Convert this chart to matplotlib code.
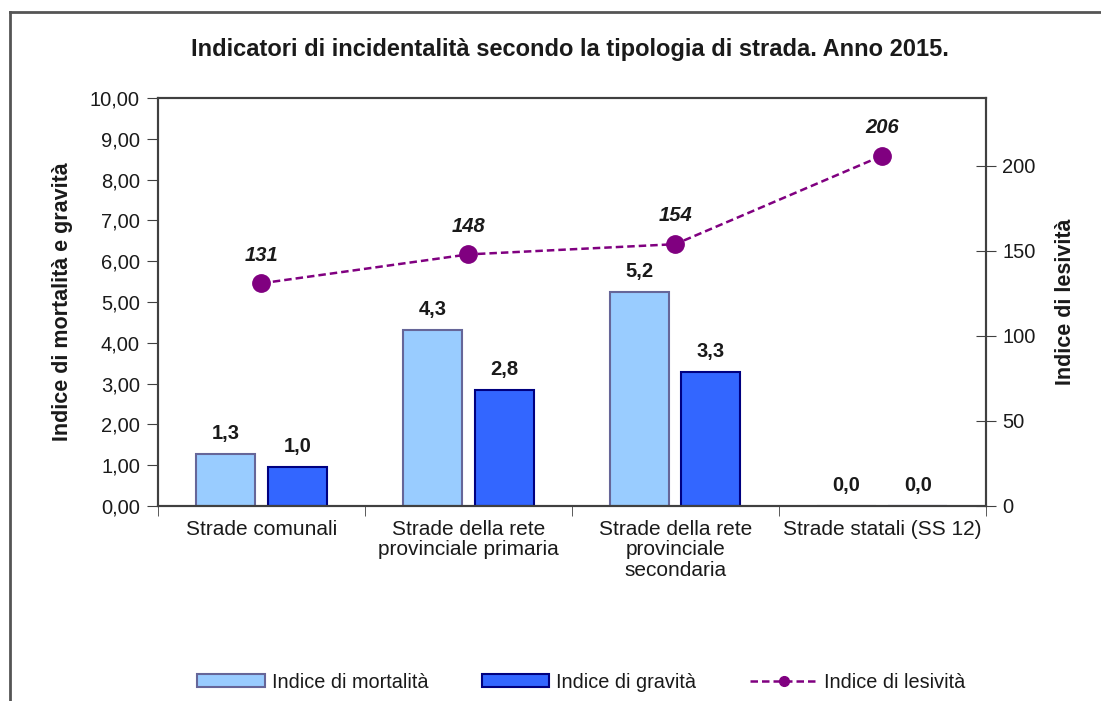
import numpy as np
import matplotlib.pyplot as plt
from matplotlib.lines import Line2D
from matplotlib.patches import Patch

# =========================================================
# DATA
# =========================================================
categorie = ["Strade comunali",
             "Strade della rete\nprovinciale primaria",
             "Strade della rete\nprovinciale\nsecondaria",
             "Strade statali (SS 12)"]
mortalita = [1.27, 4.31, 5.25, 0.0]
gravita = [0.96, 2.84, 3.28, 0.0]
lesivita = [131, 148, 154, 206]

titolo = "Indicatori di incidentalità secondo la tipologia di strada. Anno 2015."

plt.rcParams['font.family'] = ['Liberation Sans', 'DejaVu Sans']

# =========================================================
# FIGURE
# =========================================================
fig = plt.figure(figsize=(11.01, 7.01), dpi=100)
ax = fig.add_axes([0.1435, 0.2782, 0.7516, 0.582])
ax2 = ax.twinx()

x = np.arange(len(categorie))
w = 0.285
off = 0.173
axis_col = "#404040"
txt_col = "#1a1a1a"

ax.bar(x - off, mortalita, w, color="#99CCFF", edgecolor="#666699", linewidth=1.5, zorder=2)
ax.bar(x + off, gravita, w, color="#3366FF", edgecolor="#000080", linewidth=1.5, zorder=2)

for xi, v in zip(x - off, mortalita):
    ax.text(xi, v + 0.27, f"{v:.1f}".replace(".", ","), ha="center", va="bottom",
            fontsize=14.5, fontweight="bold", color=txt_col)
for xi, v in zip(x + off, gravita):
    ax.text(xi, v + 0.27, f"{v:.1f}".replace(".", ","), ha="center", va="bottom",
            fontsize=14.5, fontweight="bold", color=txt_col)

ax2.plot(x, lesivita, color="#800080", linestyle=(0, (3, 1.6)), linewidth=1.8,
         marker="o", markersize=12.5, zorder=3)
for xi, v in zip(x, lesivita):
    ax2.text(xi, v + 11, f"{v}", ha="center", va="bottom", fontsize=14.5,
             fontweight="bold", fontstyle="italic", color=txt_col)

# axes
ax.set_xlim(-0.5, 3.5)
ax.set_ylim(0, 10)
ax2.set_ylim(0, 240)
ax.set_yticks(np.arange(0, 11, 1))
ax.set_yticklabels([f"{v:.2f}".replace(".", ",") for v in np.arange(0, 11, 1)])
ax2.set_yticks([0, 50, 100, 150, 200])

ax.set_xticks(x)
ax.set_xticklabels(categorie, fontsize=15, color=txt_col, linespacing=1.1)
ax.set_xticks(np.arange(-0.5, 4, 1), minor=True)
ax.tick_params(axis="x", which="major", length=0, pad=10)
ax.tick_params(axis="x", which="minor", length=7, direction="out", color=axis_col)
ax.tick_params(axis="y", length=8, direction="out", color=axis_col, labelsize=14.5,
               labelcolor=txt_col, pad=5)
ax2.tick_params(axis="y", length=14, direction="inout", color=axis_col, labelsize=14.5,
                labelcolor=txt_col, pad=5)

for a in (ax, ax2):
    for s in a.spines.values():
        s.set_color(axis_col)
        s.set_linewidth(1.5)

ax.set_ylabel("Indice di mortalità e gravità", fontsize=15.5, fontweight="bold",
              labelpad=12, color=txt_col)
ax2.set_ylabel("Indice di lesività", fontsize=15.5, fontweight="bold", labelpad=14,
               color=txt_col)

fig.text(0.518, 0.929, titolo, ha="center", va="center", fontsize=17,
         fontweight="bold", color=txt_col)

# legend
handles = [Patch(facecolor="#99CCFF", edgecolor="#666699", linewidth=1.5),
           Patch(facecolor="#3366FF", edgecolor="#000080", linewidth=1.5),
           Line2D([], [], color="#800080", linestyle=(0, (3, 1.6)), linewidth=1.8,
                  marker="o", markersize=7)]
fig.legend(handles, ["Indice di mortalità", "Indice di gravità", "Indice di lesività"],
           loc="center", bbox_to_anchor=(0.528, 0.027), ncol=3, frameon=False,
           fontsize=14.3, handlelength=3.4, handleheight=0.6, handletextpad=0.35,
           columnspacing=2.7, labelcolor=txt_col)

# outer frame
fig.add_artist(Line2D([10 / 1101, 10 / 1101], [0, 1 - 12 / 701], color="#555555",
                      linewidth=2, transform=fig.transFigure))
fig.add_artist(Line2D([10 / 1101, 1], [1 - 12 / 701, 1 - 12 / 701], color="#555555",
                      linewidth=2, transform=fig.transFigure))

fig.savefig("out.png", dpi=100)
